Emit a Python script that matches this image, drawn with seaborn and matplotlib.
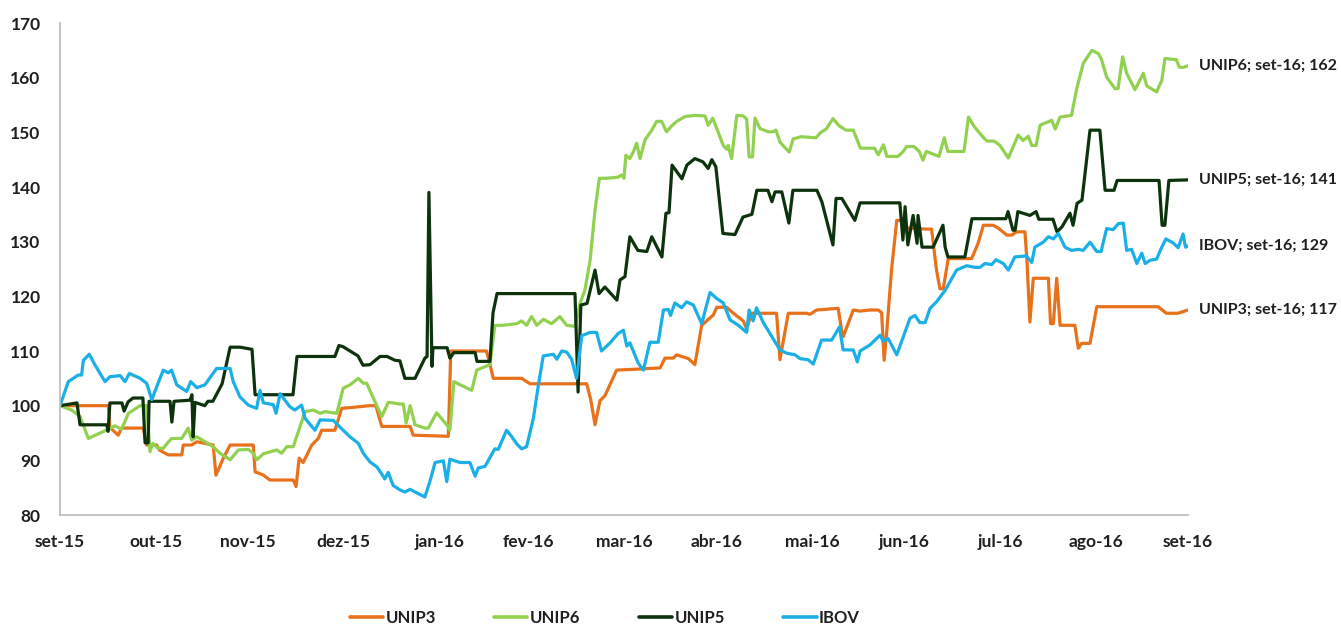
import matplotlib
matplotlib.use("Agg")
import matplotlib.pyplot as plt
import numpy as np
import pandas as pd
import seaborn as sns

# ---------------- data (day offsets from START, index values) ----------------
START = pd.Timestamp("2015-09-30")
END = pd.Timestamp("2016-09-30")

series_names = ["UNIP3", "UNIP6", "UNIP5", "IBOV"]
series_colors = ["#E8711C", "#92D050", "#0D330D", "#1AAFE6"]
end_labels = [117, 162, 141, 129]

unip3_days = [0, 15.7, 16.2, 18.9, 20, 27, 28.1, 31.4, 32.2, 35.1, 39.5, 40, 42.7, 44.4, 49.7, 50.6, 53, 55.2,
              62.7, 63.3, 66, 68.1, 75.7, 76.6, 77.6, 78.9, 81.7, 83.8, 84.9, 89.2, 91.4, 100.6, 102.5, 104.4,
              113.6, 114.6, 126, 126.8, 138.4, 140.6, 149.8, 152.5, 170.9, 172.2, 173.6, 175.2, 176.8, 180.6,
              194.7, 196.3, 199, 200.1, 203.9, 206, 208.2, 212, 213.1, 216.3, 218.5, 221.7, 222.8, 224.4,
              232.5, 233.6, 236.3, 242.3, 243.3, 245.5, 252.5, 253.6, 254.1, 257.4, 259.6, 262.8, 265.5,
              266.6, 267.4, 268.2, 269.8, 271.5, 273.1, 274.2, 275.2, 281.2, 282.8, 284.4, 285.5, 286.6,
              288.2, 295.8, 297.9, 299.6, 302.8, 304.4, 307.2, 308.8, 310.4, 313.1, 313.8, 314.7, 315.8,
              320.7, 321.4, 322.3, 323.4, 324.5, 329.3, 330.4, 331.5, 334.2, 336.4, 356.3, 359, 362.7, 366]
unip3_vals = [100, 100, 96, 94.6, 95.9, 95.9, 92.8, 92.8, 91.9, 91, 91, 92.8, 92.8, 93.4, 92.8, 87.3, 90.4, 92.8,
              92.8, 87.9, 87.3, 86.4, 86.4, 85.2, 90.4, 89.6, 92.8, 94, 95.5, 95.5, 99.5, 100, 100, 96.2,
              96.2, 94.6, 94.4, 110, 110, 105, 105, 104, 104, 101.1, 96.5, 100.9, 101.8, 106.5,
              106.9, 108.7, 108.7, 109.3, 108.6, 107.5, 114.7, 116.6, 118, 118, 116.9, 115.5, 114.1, 116.9,
              116.9, 108.4, 116.9, 116.9, 116.7, 117.5, 117.8, 113.8, 112.6, 117.5, 117.3, 117.5, 117.5,
              117, 108.3, 113.2, 124.8, 133.9, 133.9, 131.8, 132.5, 132.3, 132.3, 124.8, 121.4, 121.4,
              126.9, 126.9, 129.7, 133, 133, 132.5, 131.2, 131.2, 131.8, 131.8, 126, 115.3, 123.3,
              123.3, 115, 115, 123.3, 114.7, 114.7, 110.5, 111.4, 111.4, 118.1, 118.1, 116.9, 116.9, 117.5]

unip6_days = [0, 3.8, 6.5, 9.2, 13, 15.7, 17.8, 20, 22.2, 26, 28.1, 29.2, 30.1, 31.9, 33.5, 34.6, 36.2, 39.5,
              41.6, 42.7, 44.4, 49.7, 51.9, 55.2, 57.9, 61.1, 62.7, 63.8, 66, 70.3, 71.9, 73.6, 75.7, 77.9,
              79.5, 82.2, 84.4, 86, 89.8, 91.9, 94.1, 96.8, 98.4, 99.5, 102.8, 104.4, 106.5, 108.1, 110.3,
              111.4, 112.3, 113.6, 115.2, 118.4, 119.5, 122.2, 125.5, 126.5, 127.8, 130.3, 133.6, 135.2,
              139.5, 141.1, 143.8, 148.2, 149.8, 151.4, 153, 154.7, 156.8, 159.5, 162.2, 164.4, 167.1,
              168.7, 170.3, 172, 173.6, 175, 177.4, 181.1, 182.2, 183, 183.6, 184.9, 186, 187.1, 188.2,
              189.8, 192, 193.6, 195.2, 196.8, 198.5, 200.1, 202.8, 206, 209.3, 210.3, 211.8, 215.2,
              216.3, 216.8, 217.9, 219.6, 221.7, 222.8, 223.6, 224.7, 225.5, 227.1, 229.8, 231.4, 232.3,
              233.6, 236.6, 237.9, 240.5, 245.2, 246.9, 248.6, 250.8, 252.8, 255, 257.4, 259.7, 264.3,
              265.5, 267.2, 268.3, 271.9, 273.6, 274.7, 277.1, 278.8, 280, 281.1, 285.2, 286.9, 288.1,
              293.3, 294.8, 296.7, 299.7, 300.8, 303.1, 305, 307.7, 310.9, 312.5, 314.2, 315.3, 316.7,
              318, 321.8, 322.9, 324.5, 328.2, 329.9, 332, 334.8, 336.9, 337.9, 339.6, 342.3, 343.3,
              344.8, 346.1, 348.8, 351.5, 352.6, 355.8, 357.5, 358.5, 362.2, 363.2, 364.6, 366]
unip6_vals = [100, 99.2, 98, 94, 95, 95.7, 96.3, 95.7, 98.6, 100, 100, 91.6, 93.1, 92.2, 92.2, 93, 94, 94,
              95.9, 93.7, 94.3, 92.5, 91.3, 90.1, 91.9, 92, 91.3, 90.1, 91.2, 91.9, 91.3, 92.5, 92.5, 96.2,
              98.9, 99.2, 98.6, 98.9, 98.6, 103.2, 103.8, 105, 104.1, 104.1, 100, 98, 100.6, 100.5, 100.3,
              100.3, 96.8, 100, 96.5, 95.9, 95.9, 98.7, 96.5, 95.5, 104.4, 103.7, 102.8, 106.5,
              107.5, 114.7, 114.7, 115, 115.5, 114.7, 116.3, 114.7, 115.8, 115, 116.3, 114.7, 114.5,
              118.7, 121.1, 126.6, 135.8, 141.6, 141.6, 141.8, 142.2, 141.6, 145.8, 145.2, 146.4, 148, 145.2,
              148.6, 150.4, 152, 152, 150.1, 151.2, 152, 152.9, 153.1, 153, 151.3, 152.6, 147.6,
              146.9, 147.6, 145.2, 153.1, 153, 152.4, 145.5, 145.5, 152.6, 150.7, 150.1, 150.1, 150.4,
              148.2, 146.4, 148.8, 149.2, 149, 150, 150.6, 152.5, 151.2, 150.4, 150.4, 147.1, 147.1,
              145.9, 147.7, 145.6, 145.6, 146.5, 147.4, 147.4, 146.5, 144.9, 146.5, 145.6, 149, 146.5,
              146.5, 152.8, 151, 149, 148.4, 148.4, 147.6, 145.3, 149.5, 148.5, 149.3, 147.6, 147.6,
              151.3, 152.2, 150.6, 152.8, 153.1, 158, 162.6, 165, 164.4, 163.4, 160.1, 158, 158,
              163.8, 160.8, 157.8, 160.8, 158.5, 157.4, 159.5, 163.5, 163.3, 161.9, 161.9, 162.2]

unip5_days = [0, 5.5, 6.5, 15.2, 15.6, 16.2, 20.1, 20.8, 22.1, 23.7, 26.9, 27.6, 28.6, 28.9, 35.7, 36.3, 37,
              42.2, 42.8, 43.2, 43.8, 47, 48, 49.6, 52.6, 55.2, 58.4, 62.3, 63.3, 75.6, 76.9, 89.2, 90.5,
              91.8, 96.7, 98.3, 100.6, 103.8, 106.1, 108.7, 110.3, 111.9, 115.2, 118.4, 119.1, 119.7,
              120.7, 121, 125.6, 126.5, 127.8, 134.7, 135.3, 139.5, 140.5, 141.8, 167.1, 168.1, 169, 171,
              173.6, 174.9, 176.8, 180.7, 181.7, 183.3, 184.9, 187.5, 190.4, 192, 195.3, 196.6, 197.6,
              198.6, 201.8, 203.4, 206, 208.6, 210.3, 211.5, 212.8, 215.1, 219, 221.6, 224.5, 226.1,
              229.7, 231, 232, 234.2, 236.5, 237.8, 245.6, 247.2, 250.8, 251.8, 253.7, 257.9, 259.6,
              272.5, 273.5, 274.2, 275.1, 276.8, 278.1, 278.4, 279.7, 283.3, 286.5, 287.2, 288.1, 293.6,
              295.9, 306.9, 307.6, 309.2, 309.9, 310.8, 314.7, 316.7, 317.6, 322.2, 323.5, 325.1, 327.7,
              328.7, 330, 331.6, 334.2, 337.4, 339.1, 342, 343, 356.6, 357.6, 358.5, 359.8, 366]
unip5_vals = [100, 100.5, 96.5, 96.5, 95.3, 100.5, 100.5, 99, 100.7, 101.4, 101.4, 93.2, 93.2, 100.8, 100.8, 97,
              100.8, 101, 102, 94.3, 100.6, 100, 100.8, 100.8, 104, 110.7, 110.7, 110.3, 102, 102, 109, 109,
              111, 110.8, 109.1, 107.4, 107.5, 109, 109, 108.3, 108.2, 105, 105, 108.7, 109, 139,
              107.2, 110.6, 110.6, 108.7, 109.7, 109.7, 108.1, 108.1, 117, 120.5, 120.5, 102.5, 118.4, 118.7,
              124.8, 120.5, 121.7, 119.3, 123, 123.6, 130.9, 128.4, 128.2, 130.9, 127.2, 135.2, 135.3,
              144, 141.5, 144, 145.2, 144.6, 143.4, 145, 143.7, 131.5, 131.3, 134.5, 135, 139.4,
              139.4, 137.3, 139.1, 139.1, 133.4, 139.4, 139.4, 137.3, 129.4, 137.9, 137.9, 133.9, 137.1,
              137.1, 130.3, 136.4, 129.4, 134.8, 129.7, 134.8, 129, 129, 133, 129, 127.2, 127.2,
              134.2, 134.2, 135.5, 132.1, 132.1, 135.5, 134.8, 135.5, 134.1, 134.1, 131.8, 132.7, 135.2,
              133, 137, 137.6, 150.4, 150.4, 139.4, 139.4, 141.2, 141.2, 133, 133, 141.2, 141.3]

ibov_days = [0, 2.7, 5.9, 7, 7.6, 9.5, 11.4, 14.6, 16.2, 19.5, 21.1, 22.5, 26, 28.1, 29.8, 31.4, 33.5, 35.1,
             36.2, 37.9, 41.1, 42.4, 44.4, 47, 50.8, 55.2, 56.2, 58.4, 61.1, 63.8, 64.9, 66, 69.2, 70.1,
             71.4, 74.6, 76.2, 78.4, 79.5, 82.7, 84.4, 88.7, 90.8, 94.1, 96.8, 98.4, 100.6, 102.8, 103.8,
             105.4, 106.5, 108.1, 110.3, 111.9, 113.6, 115.2, 118.4, 120, 121.7, 124.4, 125.5, 126.5,
             129.8, 133, 134.7, 135.7, 137.9, 139.5, 141.1, 142.2, 144.9, 146.5, 148.2, 149.8, 151.4,
             153.6, 155.2, 156.8, 160.1, 161.2, 162.8, 164.4, 166, 167.6, 169.3, 172, 174.1, 175.7,
             178.5, 181.1, 182.8, 183.9, 184.9, 187.6, 189.3, 191.4, 194.1, 195.8, 197.4, 198.1, 199.5,
             201.7, 203.3, 205.5, 208.2, 210.9, 213.1, 215.2, 217.4, 220.1, 222.8, 223.6, 224.9, 226,
             228.2, 233.6, 235.8, 238.5, 240.1, 242.8, 244.4, 247.1, 250.4, 252.9, 254.1, 257.4, 258.7,
             259.6, 262.8, 266.1, 267.1, 268.7, 271.5, 273.6, 275.8, 277.4, 279, 280.7, 282.3, 284.4,
             287.2, 288.8, 290.9, 294.2, 296.9, 298.5, 300.1, 302.3, 303.7, 306.1, 307.7, 309.8, 313.6,
             315.3, 316.3, 319, 320.7, 322.3, 323.9, 326.1, 328.2, 330.4, 332, 334.2, 336.4, 337.8,
             339.6, 341.7, 343.4, 345, 346.1, 347.7, 349.4, 351, 352.1, 353.7, 355.8, 357.5, 358.8,
             361.1, 362.8, 364.4, 365.2, 366]
ibov_vals = [100, 104.4, 105.6, 105.6, 108.3, 109.4, 107.4, 104.4, 105.3, 105.5, 104.4, 105.9, 105, 104.1, 101.1,
             103.5, 106.5, 106, 106.5, 103.8, 102.6, 104.4, 103.3, 103.8, 106.8, 106.8, 104.4, 101.6, 100.1,
             99.5, 102.8, 100.5, 100.2, 98.6, 102.2, 99.8, 99.2, 100.1, 97.7, 95.5, 97.4, 97.3, 96.1, 94.3,
             93.1, 91.3, 89.7, 88.8, 88, 86.6, 87.8, 85.4, 84.6, 84.2, 84.7, 84.2, 83.3, 86.1, 89.6, 89.9,
             86.1, 90.2, 89.6, 89.6, 87.1, 88.6, 88.9, 90.5, 92.1, 92, 95.5, 94.4, 93, 92.1, 92.5, 97.7,
             103.7, 109.1, 109.4, 108.5, 110, 109.8, 108.5, 105, 112.8, 113.4, 113.4, 110, 111.5, 113.2,
             113.8, 110.9, 111.5, 107.8, 106.5, 111.6, 111.6, 117.5, 117.6, 116.5, 118.8, 117.9, 119,
             118.4, 115, 120.7, 119.6, 118.8, 115.7, 114.7, 113.4, 117.5, 115.5, 117.9, 115.2, 110.2,
             109.6, 109.3, 108.6, 108.4, 107.6, 112, 112, 114.4, 110.2, 110.2, 108, 110, 111.1, 112.9,
             111.8, 112.3, 109.3, 112.6, 116, 116.5, 115.2, 115.2, 117.8, 119, 121.1, 122.7, 124.8,
             125.6, 125.3, 125.3, 126, 125.8, 126.7, 126, 124.8, 127.2, 127.4, 126.2, 129, 129.9, 130.9,
             130.5, 131.5, 129, 128.4, 128.6, 128.4, 129.9, 128.2, 128.2, 132.4, 132.2, 133.3, 133.4,
             128.4, 128.6, 126, 127.9, 126, 126.6, 126.8, 129, 130.5, 129.8, 128.9, 131.4, 129, 129.2]

tick_dates = ["2015-09-30", "2015-10-31", "2015-11-30", "2015-12-31", "2016-01-31", "2016-02-29",
              "2016-03-31", "2016-04-30", "2016-05-31", "2016-06-30", "2016-07-31", "2016-08-31", "2016-09-30"]
tick_labels = ["set-15", "out-15", "nov-15", "dez-15", "jan-16", "fev-16", "mar-16", "abr-16",
               "mai-16", "jun-16", "jul-16", "ago-16", "set-16"]
y_ticks = [80, 90, 100, 110, 120, 130, 140, 150, 160, 170]

# ---------------- build long table ----------------
all_days = [unip3_days, unip6_days, unip5_days, ibov_days]
all_vals = [unip3_vals, unip6_vals, unip5_vals, ibov_vals]
frames = []
for name, d, v in zip(series_names, all_days, all_vals):
    assert len(d) == len(v), (name, len(d), len(v))
    frames.append(pd.DataFrame({
        "date": START + pd.to_timedelta(np.array(d), unit="D"),
        "value": v,
        "series": name,
    }))
df = pd.concat(frames, ignore_index=True)

# ---------------- plot ----------------
sns.set_theme(style="white")
plt.rcParams["font.family"] = ["Lato", "DejaVu Sans"]
plt.rcParams["font.weight"] = "bold"
text_color = "#1F1F1F"

W, H = 1341, 627
fig = plt.figure(figsize=(W / 100, H / 100), dpi=100)
ax = fig.add_axes([60 / W, 1 - 515 / H, (1188 - 60) / W, (515 - 23) / H])

sns.lineplot(data=df, x="date", y="value", hue="series", hue_order=series_names,
             palette=dict(zip(series_names, series_colors)), estimator=None, sort=False,
             linewidth=2.3, ax=ax)

ax.set_xlim(START, END)
ax.set_ylim(80, 170)
ax.set_yticks(y_ticks)
ax.set_xticks(pd.to_datetime(tick_dates))
ax.set_xticklabels(tick_labels)
ax.set_xlabel("")
ax.set_ylabel("")
ax.tick_params(axis="x", direction="out", length=5, width=1.2, color="#A6A6A6",
               labelsize=12.5, labelcolor=text_color, pad=9)
ax.tick_params(axis="y", direction="out", length=6, width=1.2, color="#A6A6A6",
               labelsize=12.5, labelcolor=text_color, pad=8)
for lbl in ax.get_xticklabels() + ax.get_yticklabels():
    lbl.set_fontweight("bold")
sns.despine(ax=ax)
for side in ("left", "bottom"):
    ax.spines[side].set_color("#BFBFBF")
    ax.spines[side].set_linewidth(1.3)

# end-of-series labels
for name, d, v, lab in zip(series_names, all_days, all_vals, end_labels):
    ax.annotate(f"{name}; set-16; {lab}",
                xy=(START + pd.Timedelta(days=d[-1]), v[-1]),
                xytext=(8, 0), textcoords="offset points", ha="left", va="center",
                fontsize=11.5, fontweight="bold", color=text_color, annotation_clip=False)

sns.move_legend(ax, "center", bbox_to_anchor=(0.451, 0.014), bbox_transform=fig.transFigure,
                ncol=4, frameon=False, title=None, handlelength=2.0, handletextpad=0.15,
                columnspacing=3.5, fontsize=12)
leg = ax.get_legend()
for t in leg.get_texts():
    t.set_fontweight("bold")
    t.set_color(text_color)
for h in leg.legend_handles:
    h.set_linewidth(2.6)

fig.savefig("out.png", dpi=100)
